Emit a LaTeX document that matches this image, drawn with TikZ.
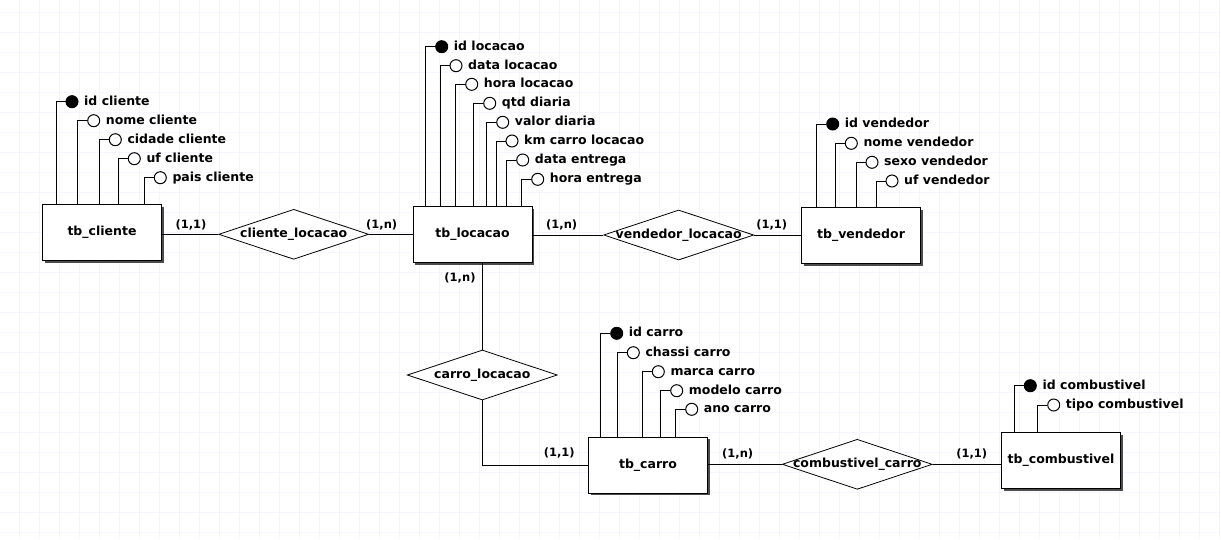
\documentclass[tikz,border=0pt]{standalone}
\usepackage{fontspec}
\setmainfont{DejaVu Sans}
\usetikzlibrary{shapes.geometric,shadows}

% one attribute: name, entity, x of its stem, row y, circle style, label
\newcommand{\erattr}[6]{%
  \node[#5] (#1) at (#3+16,#4) {};
  \node[attrlabel] (#1-t) at ([xshift=5.5pt]#1.east) {#6};
  \coordinate (#1-foot) at (#3,#4);
  \draw[link] (#1.west) -| (#1-foot |- #2.north);
}

\tikzset{
  x=1pt, y=-1pt,
  gridline/.style={draw=black!6!blue!4!white, line width=1pt},
  link/.style={draw=black, line width=1pt},
  entity/.style={draw=black, fill=white, line width=1pt, rectangle,
    minimum width=119pt, minimum height=56pt, inner sep=0pt,
    font=\fontsize{12.5}{14}\selectfont\bfseries,
    drop shadow={shadow xshift=2pt, shadow yshift=-2pt, fill=black!70, opacity=1}},
  relation/.style={draw=black, fill=white, line width=0.8pt, diamond,
    minimum width=150pt, minimum height=50pt, inner sep=0pt},
  reltext/.style={inner sep=0pt, font=\fontsize{12.5}{14}\selectfont\bfseries},
  keyattr/.style={circle, draw=black, fill=black, line width=1pt,
    minimum size=12pt, inner sep=0pt},
  plainattr/.style={circle, draw=black, fill=white, line width=1pt,
    minimum size=12pt, inner sep=0pt},
  attrlabel/.style={anchor=west, inner sep=0pt, text height=1.5ex, text depth=0.25ex,
    font=\fontsize{12.5}{14}\selectfont\bfseries},
  card/.style={inner sep=0pt, font=\fontsize{11.5}{13}\selectfont\bfseries},
}

\begin{document}
\begin{tikzpicture}
  \useasboundingbox (0,0) rectangle (1221,539);
  \fill[white] (0,0) rectangle (1221,539);

  % background grid
  \foreach \gx in {19.5,39.5,...,1219.5}
    \draw[gridline] (\gx,0) -- (\gx,539);
  \foreach \gy in {12.5,32.5,...,532.5}
    \draw[gridline] (0,\gy) -- (1221,\gy);

  % relationships
  \node[relation] (cl)  at (293.7,234.3) {};
  \node[relation] (vl)  at (678.7,235)   {};
  \node[relation] (crl) at (482.3,375)   {};
  \node[relation] (cc)  at (857.3,464.3) {};

  % entities
  \node[entity] (cli)  at (102,232.5)  {tb\_cliente};
  \node[entity] (loc)  at (472.5,234.5) {tb\_locacao};
  \node[entity] (ven)  at (861,235.5)  {tb\_vendedor};
  \node[entity] (car)  at (648,465)    {tb\_carro};
  \node[entity] (comb) at (1061,460.5) {tb\_combustivel};

  % relationship connectors
  \draw[link] (cli.east |- cl.west) -- (cl.west);
  \draw[link] (cl.east) -- (loc.west |- cl.east);
  \draw[link] (loc.east |- vl.west) -- (vl.west);
  \draw[link] (vl.east) -- (ven.west |- vl.east);
  \draw[link] (loc.south -| crl.north) -- (crl.north);
  \draw[link] (crl.south) |- (car.west);
  \draw[link] (car.east |- cc.west) -- (cc.west);
  \draw[link] (cc.east) -- (comb.west |- cc.east);

  % relationship names
  \node[reltext] (cl-t)  at (cl)  {cliente\_locacao};
  \node[reltext] (vl-t)  at (vl)  {vendedor\_locacao};
  \node[reltext] (crl-t) at (crl) {carro\_locacao};
  \node[reltext] (cc-t)  at (cc)  {combustivel\_carro};

  % cardinalities
  \node[card] (c1) at (191,225)     {(1,1)};
  \node[card] (c2) at (381.7,225)   {(1,n)};
  \node[card] (c3) at (561.7,225)   {(1,n)};
  \node[card] (c4) at (771.7,225)   {(1,1)};
  \node[card] (c5) at (460,278.3)   {(1,n)};
  \node[card] (c6) at (559.3,453.3) {(1,1)};
  \node[card] (c7) at (737.7,454.3) {(1,n)};
  \node[card] (c8) at (971.7,454.3) {(1,1)};

  % attributes of tb_cliente
  \erattr{a-cli1}{cli}{56}{101.7}{keyattr}{id cliente}
  \erattr{a-cli2}{cli}{77.7}{120.7}{plainattr}{nome cliente}
  \erattr{a-cli3}{cli}{99.3}{139.7}{plainattr}{cidade cliente}
  \erattr{a-cli4}{cli}{118.3}{158.7}{plainattr}{uf cliente}
  \erattr{a-cli5}{cli}{144.3}{177.7}{plainattr}{pais cliente}

  % attributes of tb_locacao
  \erattr{a-loc1}{loc}{425.7}{46.7}{keyattr}{id locacao}
  \erattr{a-loc2}{loc}{440}{65.7}{plainattr}{data locacao}
  \erattr{a-loc3}{loc}{455.7}{84.3}{plainattr}{hora locacao}
  \erattr{a-loc4}{loc}{473.7}{103.3}{plainattr}{qtd diaria}
  \erattr{a-loc5}{loc}{486.7}{122.3}{plainattr}{valor diaria}
  \erattr{a-loc6}{loc}{496}{141}{plainattr}{km carro locacao}
  \erattr{a-loc7}{loc}{506.7}{160}{plainattr}{data entrega}
  \erattr{a-loc8}{loc}{521.7}{179.3}{plainattr}{hora entrega}

  % attributes of tb_vendedor
  \erattr{a-ven1}{ven}{816.7}{124}{keyattr}{id vendedor}
  \erattr{a-ven2}{ven}{835.3}{143.3}{plainattr}{nome vendedor}
  \erattr{a-ven3}{ven}{856}{162.3}{plainattr}{sexo vendedor}
  \erattr{a-ven4}{ven}{876}{181}{plainattr}{uf vendedor}

  % attributes of tb_carro
  \erattr{a-car1}{car}{600.7}{333.3}{keyattr}{id carro}
  \erattr{a-car2}{car}{617.3}{352.7}{plainattr}{chassi carro}
  \erattr{a-car3}{car}{642.3}{371.7}{plainattr}{marca carro}
  \erattr{a-car4}{car}{660.7}{390.7}{plainattr}{modelo carro}
  \erattr{a-car5}{car}{675.7}{409.3}{plainattr}{ano carro}

  % attributes of tb_combustivel
  \erattr{a-comb1}{comb}{1014.3}{385.7}{keyattr}{id combustivel}
  \erattr{a-comb2}{comb}{1037.7}{405}{plainattr}{tipo combustivel}
\end{tikzpicture}
\end{document}
